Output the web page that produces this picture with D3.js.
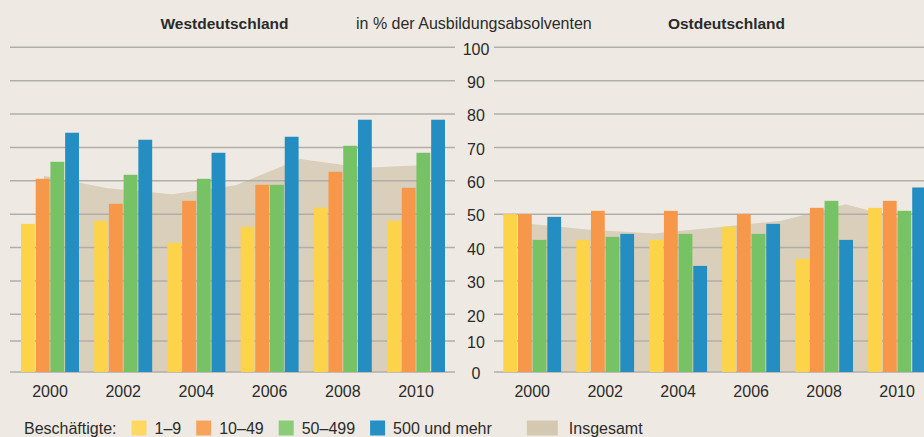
<!DOCTYPE html>
<html>
<head>
<meta charset="utf-8">
<script src="https://cdn.jsdelivr.net/npm/d3@7/dist/d3.min.js"></script>
<style>
body { margin: 0; background: #eeeae3; }
svg { display: block; font-family: "Liberation Sans", Arial, sans-serif; }
.tick text, .lbl { fill: #2b2b2b; font-size: 16px; }
.title { fill: #2b2b2b; font-size: 15.5px; font-weight: bold; }
</style>
</head>
<body>
<div id="chart"></div>
<script>
// years shown under the bar groups
var years = ["2000", "2002", "2004", "2006", "2008", "2010"];
var sizes = ["1–9", "10–49", "50–499", "500 und mehr"];
var yTicks = [0, 10, 20, 30, 40, 50, 60, 70, 80, 90, 100];

// Westdeutschland, in % per size class
var westSmall  = [47.1, 48.0, 41.4, 46.2, 52.0, 48.0];
var westMedium = [60.6, 53.1, 54.0, 58.8, 62.7, 57.9];
var westLarge  = [65.7, 61.8, 60.6, 58.8, 70.5, 68.4];
var westHuge   = [74.4, 72.3, 68.4, 73.2, 78.3, 78.3];
var westTotal  = [61.5, 57.8, 56.0, 58.7, 66.5, 63.9, 64.7];

// Ostdeutschland
var eastSmall  = [50.0, 42.3, 42.3, 46.2, 36.6, 51.9];
var eastMedium = [50.0, 51.0, 51.0, 50.0, 51.9, 54.0];
var eastLarge  = [42.3, 43.2, 44.1, 44.1, 54.0, 51.0];
var eastHuge   = [49.2, 44.1, 34.5, 47.1, 42.3, 58.0];
var eastTotal  = [47.2, 45.3, 44.2, 46.1, 48.0, 53.0, 48.0];

var colors = ["#fdd34a", "#f7974a", "#76c265", "#248ec2"];
var legendColors = ["#ffd860", "#f8a35c", "#8ccb7a", "#2490c6"];
var totalColor = "#d9cfba";

var width = 924, height = 437;

var svg = d3.select("#chart").append("svg")
    .attr("width", width)
    .attr("height", height);

svg.append("rect").attr("width", width).attr("height", height).attr("fill", "#eeeae3");

// the original axis is squeezed below 20
var y = d3.scaleLinear()
    .domain([0, 10, 20, 100])
    .range([372, 341, 314.3, 47.3]);

function drawPanel(p) {
    var g = svg.append("g");

    var x0 = d3.scaleBand()
        .domain(years)
        .range(p.range)
        .paddingInner(0.208)
        .paddingOuter(0);

    var x1 = d3.scaleBand()
        .domain(sizes)
        .range([0, x0.bandwidth()])
        .paddingInner(0.06);

    var xt = d3.scalePoint()
        .domain(d3.range(p.total.length))
        .range([p.range[0] + 23, p.range[1] - 17]);

    // Insgesamt area in the background
    var area = d3.area()
        .x(function(d, i){ return xt(i); })
        .y0(y(0))
        .y1(function(d){ return y(d); });

    g.append("path")
        .datum(p.total)
        .attr("d", area)
        .attr("fill", totalColor);

    g.selectAll(".grid")
        .data(yTicks)
        .enter().append("line")
        .attr("class", "grid")
        .attr("x1", p.grid[0])
        .attr("x2", p.grid[1])
        .attr("y1", function(d){ return y(d); })
        .attr("y2", function(d){ return y(d); })
        .attr("stroke", "#b1aeaa")
        .attr("stroke-width", 1.4);

    var groups = g.selectAll(".year")
        .data(years)
        .enter().append("g")
        .attr("class", "year")
        .attr("transform", function(d){ return "translate(" + x0(d) + ",0)"; });

    groups.selectAll("rect")
        .data(function(d, i){
            return p.series.map(function(s, j){ return {size: sizes[j], value: s[i], c: colors[j]}; });
        })
        .enter().append("rect")
        .attr("x", function(d){ return x1(d.size); })
        .attr("width", x1.bandwidth())
        .attr("y", function(d){ return y(d.value); })
        .attr("height", function(d){ return y(0) - y(d.value); })
        .attr("fill", function(d){ return d.c; });

    g.selectAll(".yr")
        .data(years)
        .enter().append("text")
        .attr("class", "lbl")
        .attr("x", function(d){ return x0(d) + x0.bandwidth() / 2; })
        .attr("y", 396.5)
        .attr("text-anchor", "middle")
        .text(function(d){ return d; });

    g.append("text")
        .attr("class", "title")
        .attr("x", p.titleX)
        .attr("y", 28.5)
        .attr("text-anchor", "middle")
        .text(p.title);
}

drawPanel({
    title: "Westdeutschland", titleX: 224.5,
    range: [21, 445], grid: [10, 455],
    series: [westSmall, westMedium, westLarge, westHuge],
    total: westTotal
});

drawPanel({
    title: "Ostdeutschland", titleX: 726.5,
    range: [503.3, 926], grid: [494, 924],
    series: [eastSmall, eastMedium, eastLarge, eastHuge],
    total: eastTotal
});

// value axis sits between the two panels
var yAxis = d3.axisRight(y).tickValues(yTicks).tickSize(0).tickPadding(0);
var ya = svg.append("g")
    .attr("transform", "translate(476,0)")
    .call(yAxis);
ya.select(".domain").remove();
ya.selectAll("text")
    .attr("text-anchor", "middle")
    .attr("font-family", null)
    .attr("font-size", null)
    .attr("dy", "0.42em");

svg.append("text")
    .attr("class", "lbl")
    .attr("x", 356)
    .attr("y", 29)
    .text("in % der Ausbildungsabsolventen");

// legend, laid out left to right
var legend = svg.append("g").attr("transform", "translate(0,434)");
var lx = 24;
var head = legend.append("text").attr("class", "lbl").attr("x", lx).text("Beschäftigte:");
lx += head.node().getComputedTextLength() + 15;

sizes.forEach(function(s, i){
    legend.append("rect")
        .attr("x", lx).attr("y", -13.5)
        .attr("width", 15).attr("height", 15)
        .attr("fill", legendColors[i]);
    lx += 15 + 8;
    var t = legend.append("text").attr("class", "lbl").attr("x", lx).text(s);
    lx += t.node().getComputedTextLength() + 15;
});

lx += 20;
legend.append("rect")
    .attr("x", lx).attr("y", -13.5)
    .attr("width", 31).attr("height", 15)
    .attr("fill", "#d4c8b0");
legend.append("text").attr("class", "lbl").attr("x", lx + 31 + 11).text("Insgesamt");
</script>
</body>
</html>
